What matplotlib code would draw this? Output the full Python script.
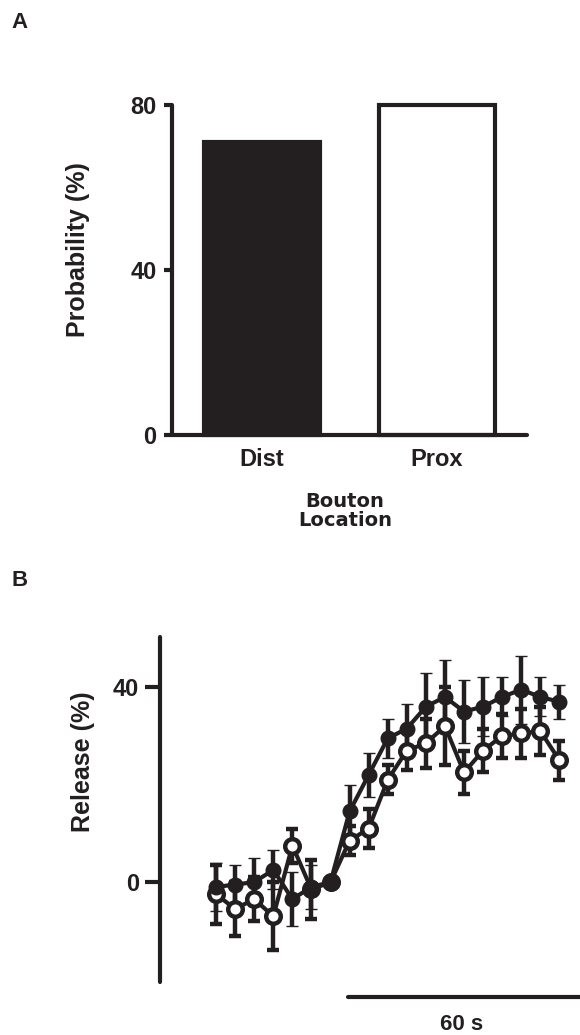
import numpy as np
import matplotlib
matplotlib.use("Agg")
import matplotlib.pyplot as plt
from matplotlib import font_manager as fm

# panel A data
locations = ["Dist", "Prox"]
probability = [71, 80]

# panel B data (time in s, release in %)
time_s = [-30, -25, -20, -15, -10, -5, 0, 5, 10, 15, 20, 25, 30, 35, 40, 45, 50, 55, 60]
dist_release = [-1, -0.5, 0, 2.5, -3.5, -1, 0, 14.5, 22, 29.5, 31.5, 36, 38, 35, 36, 38, 39.5, 38, 37]
dist_err = [5, 4, 5, 4, 5.5, 4.5, 0, 5.5, 4.5, 4, 5, 7, 7.5, 6.5, 6, 4, 7, 4, 3.5]
prox_release = [-2.5, -5.5, -3.5, -7, 7.5, -1.5, 0, 8.5, 11, 21, 27, 28.5, 32, 22.5, 27, 30, 30.5, 31, 25]
prox_err = [6, 5.5, 4.5, 7, 3.5, 6, 0, 3, 4, 3, 4, 5, 8, 4.5, 4.5, 4.5, 5, 5, 4]

K = "#231f20"

# regular-width Liberation Sans Bold (Arial look-alike)
bold_file = None
for f in fm.findSystemFonts():
    if f.endswith("LiberationSans-Bold.ttf"):
        bold_file = f
        break

def F(size):
    if bold_file:
        return fm.FontProperties(fname=bold_file, size=size)
    return fm.FontProperties(family="DejaVu Sans", weight="bold", size=size)

W, H = 580, 1035
fig = plt.figure(figsize=(W / 100, H / 100), dpi=100)

def px(x, y):
    return x / W, 1 - y / H

lw = 3.0

# ---------- panel A ----------
ax = fig.add_axes((172 / W, 1 - 435 / H, 355 / W, 330 / H))
xpos = np.arange(len(locations))
ax.bar(xpos[0], probability[0], width=0.66, color=K, edgecolor=K, linewidth=lw, clip_on=False)
ax.bar(xpos[1], probability[1], width=0.66, color="white", edgecolor=K, linewidth=lw, clip_on=False)
ax.set_xlim(-0.514, 1.514)
ax.set_ylim(0, 80)
ax.set_yticks([0, 40, 80])
ax.set_xticks(xpos)
ax.set_xticklabels(locations)
for s in ["top", "right"]:
    ax.spines[s].set_visible(False)
for s in ["left", "bottom"]:
    ax.spines[s].set_linewidth(lw)
    ax.spines[s].set_color(K)
    ax.spines[s].set_capstyle("round")
ax.tick_params(axis="y", length=6, width=lw, color=K, pad=5, labelcolor=K)
ax.tick_params(axis="x", length=0, pad=9, labelcolor=K)
for t in ax.get_yticklabels() + ax.get_xticklabels():
    t.set_fontproperties(F(17))
fig.text(*px(78, 250), "Probability (%)", rotation=90, ha="center", va="center",
         fontproperties=F(18), color=K)
fig.text(*px(345, 511), "Bouton\nLocation", ha="center", va="center", fontsize=14,
         fontweight="bold", family="DejaVu Sans", linespacing=1.05, color=K)
fig.text(*px(20, 22), "A", ha="center", va="center", fontproperties=F(16), color=K)

# ---------- panel B ----------
bx = fig.add_axes((160 / W, 1 - 982 / H, 420 / W, 345 / H))
common = dict(color=K, lw=3.0, elinewidth=3.2, capsize=4.5, capthick=5, zorder=3)
_, caps, _ = bx.errorbar(time_s, prox_release, yerr=prox_err, fmt="-o", ms=10.5,
                         mfc="white", mec=K, mew=3.2, **common)
for c in caps:
    c.set_solid_capstyle("round")
_, caps, _ = bx.errorbar(time_s, dist_release, yerr=dist_err, fmt="-o", ms=10.5,
                         mfc=K, mec=K, mew=1, **common)
for c in caps:
    c.set_solid_capstyle("round")
bx.set_xlim(-44.7, 65.4)
bx.set_ylim(-20.5, 50.3)
bx.set_yticks([0, 40])
bx.set_xticks([])
for s in ["top", "right", "bottom"]:
    bx.spines[s].set_visible(False)
bx.spines["left"].set_linewidth(lw)
bx.spines["left"].set_color(K)
bx.spines["left"].set_capstyle("round")
bx.tick_params(axis="y", length=11, width=lw, color=K, pad=4, labelcolor=K)
for t in bx.get_yticklabels():
    t.set_fontproperties(F(17))
fig.text(*px(83, 762), "Release (%)", rotation=90, ha="center", va="center",
         fontproperties=F(18), color=K)
# 60 s scale bar
bx.plot([4.6, 65.4], [-23.5, -23.5], color=K, lw=lw, solid_capstyle="round", clip_on=False)
fig.text(*px(462, 1024), "60 s", ha="center", va="center", fontproperties=F(16), color=K)
fig.text(*px(20, 580), "B", ha="center", va="center", fontproperties=F(16), color=K)

fig.savefig("out.png", dpi=100)
